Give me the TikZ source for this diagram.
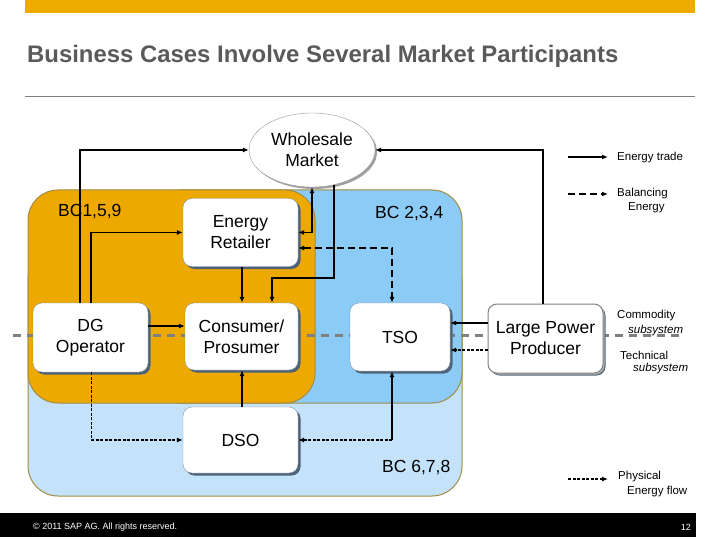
\documentclass[tikz,border=0pt]{standalone}
\usepackage{fontspec}
\setmainfont{Liberation Sans}
\usetikzlibrary{arrows.meta,shadows,shapes.geometric}
\definecolor{sapor}{HTML}{F0AB00}
\definecolor{regor}{HTML}{EDA900}
\definecolor{regbl}{HTML}{8CCBF6}
\definecolor{reglb}{HTML}{C4E3FA}
\definecolor{regbd}{HTML}{A08C44}
\definecolor{shadowc}{HTML}{4F6378}
\definecolor{boxbd}{HTML}{8494A6}
\definecolor{titlec}{HTML}{5A5A5A}
\definecolor{subc}{HTML}{808080}
\begin{document}
\begin{tikzpicture}[x=1pt,y=-1pt,
  >={Latex[length=6pt,width=5pt]},
  region/.style={draw=regbd,line width=1pt,rounded corners=30pt},
  bclabel/.style={anchor=west,inner sep=0pt,font=\fontsize{17.5}{21}\selectfont},
  box/.style={draw=boxbd,fill=white,rounded corners=9pt,minimum width=115pt,minimum height=68pt,
    align=center,inner sep=2pt,font=\fontsize{17.5}{21}\selectfont,
    drop shadow={shadow xshift=2.5pt,shadow yshift=-2.5pt,fill=shadowc,opacity=1}},
  trade/.style={line width=1.4pt,black},
  balance/.style={line width=1.4pt,black,dash pattern=on 7pt off 4pt},
  physical/.style={line width=1.3pt,black,dash pattern=on 3pt off 1.5pt},
  leg/.style={anchor=west,inner sep=0pt,font=\fontsize{11.5}{13}\selectfont},
  legit/.style={leg,font=\fontsize{11.5}{13}\selectfont\itshape}]
\useasboundingbox (0,0) rectangle (720,540);
% header
\fill[sapor] (25,0) rectangle (695,13);
\node[anchor=west,inner sep=0pt,text=titlec,font=\fontsize{23.9}{28}\selectfont\bfseries] (title) at (27,56) {Business Cases Involve Several Market Participants};
\draw[gray,line width=1pt] (25,97) -- (695,97);
% regions
\draw[region,fill=reglb] (28,250) rectangle (462,496);
\draw[region,fill=regbl] (150,190) rectangle (462,403);
\draw[region,fill=regor] (28,190) rectangle (315,403);
\node[bclabel] (bc1) at (58,212) {BC1,5,9};
\node[bclabel] (bc2) at (375,214) {BC 2,3,4};
\node[bclabel] (bc3) at (382,468) {BC 6,7,8};
% subsystem separator
\coordinate (sepa) at (13,335);
\coordinate (sepb) at (683,335);
\draw[subc,line width=3pt,dash pattern=on 8pt off 6pt] (sepa) -- (sepb);
% nodes
\node[ellipse,draw=gray!80,fill=white,minimum width=126pt,minimum height=74pt,inner sep=0pt,
  align=center,font=\fontsize{17.5}{21}\selectfont,
  drop shadow={shadow xshift=2pt,shadow yshift=-2pt,fill=gray!75,opacity=1}] (wm) at (312,150) {Wholesale\\Market};
\node[box] (ret) at (240.5,232.5) {Energy\\Retailer};
\node[box,minimum height=69pt] (dg) at (90.5,337.5) {DG\\Operator};
\node[box,minimum width=113pt,minimum height=67pt] (cp) at (241.5,336.5) {Consumer/\\Prosumer};
\node[box,minimum width=100pt] (tso) at (400,337) {TSO};
\node[box,minimum height=66pt] (dso) at (240.5,440) {DSO};
\node[box,draw=gray,line width=1pt,minimum height=69pt,
  drop shadow={shadow xshift=1.5pt,shadow yshift=-1.5pt,fill=gray!60,opacity=1}] (lpp) at (545.5,338.5) {Large Power\\Producer};
% connectors
\draw[trade,->] ([xshift=-10.5pt]dg.north) |- (wm.west);
\draw[trade,->] ([xshift=0.5pt]dg.north) |- (ret.west);
\draw[trade,<->] (wm.south) |- (ret.east);
\coordinate (j1) at (272,278);
\draw[trade,->] (wm.302) |- (j1) -- ([xshift=30.5pt]cp.north);
\draw[trade,->] ([xshift=1.5pt]ret.south) -- ([xshift=0.5pt]cp.north);
\draw[balance,<->] ([yshift=-15.5pt]ret.east) -| ([xshift=-8pt]tso.north);
\draw[trade,->] ([xshift=-2.5pt]lpp.north) |- (wm.east);
\draw[trade,->] ([yshift=15.5pt]lpp.west) -- ([yshift=15.5pt]lpp.west -| tso.east);
\draw[physical,->] ([yshift=-11.5pt]lpp.west) -- ([yshift=-11.5pt]lpp.west -| tso.east);
\draw[trade,->] ([yshift=11.5pt]dg.east) -- ([yshift=11.5pt]dg.east -| cp.west);
\draw[trade,->] ([xshift=1.5pt]dso.north) -- ([xshift=0.5pt]cp.south);
\draw[physical,->] ([xshift=1pt]dg.south) |- (dso.west);
\coordinate (j2) at ([xshift=-8pt]tso.south |- dso.east);
\draw[physical,->] (j2) -- (dso.east);
\draw[trade,->] (j2) -- ([xshift=-8pt]tso.south);
% legend
\coordinate (l1a) at (568,157); \coordinate (l1b) at (608,157);
\coordinate (l2a) at (568,194); \coordinate (l2b) at (608,194);
\coordinate (l3a) at (568,479); \coordinate (l3b) at (608,479);
\draw[trade,line width=2pt,->] (l1a) -- (l1b);
\draw[balance,line width=2pt,->] (l2a) -- (l2b);
\draw[physical,line width=2pt,->] (l3a) -- (l3b);
\node[leg] (lt1) at (617,158) {Energy trade};
\node[leg] (lt2) at (617,194) {Balancing};
\node[leg] (lt3) at (628,208) {Energy};
\node[leg] (lt4) at (617,316) {Commodity};
\node[legit] (lt5) at (628,331) {subsystem};
\node[leg] (lt6) at (620,355) {Technical};
\node[legit] (lt7) at (633,369) {subsystem};
\node[leg] (lt8) at (618,477) {Physical};
\node[leg] (lt9) at (627,492) {Energy flow};
% footer
\fill[black] (0,513) rectangle (696,537);
\node[anchor=west,inner sep=0pt,text=white,font=\fontsize{9}{10}\selectfont] (copy) at (33,527) {© 2011 SAP AG. All rights reserved.};
\node[anchor=east,inner sep=0pt,text=white,font=\fontsize{9}{10}\selectfont] (pg) at (691,527) {12};
\end{tikzpicture}
\end{document}
